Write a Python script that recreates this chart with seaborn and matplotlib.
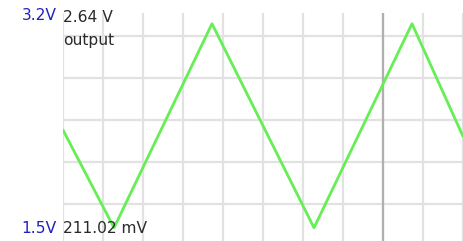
import matplotlib
matplotlib.use("Agg")
import matplotlib.pyplot as plt
import seaborn as sns
import pandas as pd

# waveform corners (time in grid divisions, volts)
t = [0.0, 1.275, 3.725, 6.275, 8.725, 10.0]
volts = [1.375, 0.211, 2.64, 0.211, 2.64, 1.30]
y_top_label = "3.2V"
y_bottom_label = "1.5V"
max_label = "2.64 V"
min_label = "211.02 mV"
trace_name = "output"
cursor_t = 8

sns.set_style("white")
plt.rcParams['font.family'] = ['DejaVu Sans']

W, H = 463, 241
fig = plt.figure(figsize=(W / 100, H / 100), dpi=100)
ax = fig.add_axes([63 / W, 0, 400 / W, 1 - 13 / H])

df = pd.DataFrame({"t": t, "v": volts})
ax.set_xlim(0, 10)
ax.set_ylim(0.0536, 2.768)
ax.set_xticks(range(0, 11))
ax.set_yticks([0.5, 1.0, 1.5, 2.0, 2.5])
ax.grid(True, color="#e2e2e2", linewidth=1.6)
ax.tick_params(left=False, bottom=False, labelleft=False, labelbottom=False)
for s in ax.spines.values():
    s.set_visible(False)

ax.axvline(cursor_t, color="#b0b0b0", linewidth=1.6, zorder=2)
sns.lineplot(data=df, x="t", y="v", ax=ax, color="#66ee55", linewidth=2.0, zorder=3)
ax.set_xlabel("")
ax.set_ylabel("")

def px(x, y):
    return x / W, 1 - y / H

fs = 11.2
fig.text(*px(57, 16), y_top_label, color="#2020c0", fontsize=fs, ha="right", va="center")
fig.text(*px(57, 228.5), y_bottom_label, color="#2020c0", fontsize=fs, ha="right", va="center")
fig.text(*px(63, 18), max_label, color="#2a2a2a", fontsize=fs, ha="left", va="center")
fig.text(*px(63, 40), trace_name, color="#2a2a2a", fontsize=fs, ha="left", va="center")
fig.text(*px(63, 228.5), min_label, color="#2a2a2a", fontsize=fs, ha="left", va="center")

fig.savefig("out.png", dpi=100)
